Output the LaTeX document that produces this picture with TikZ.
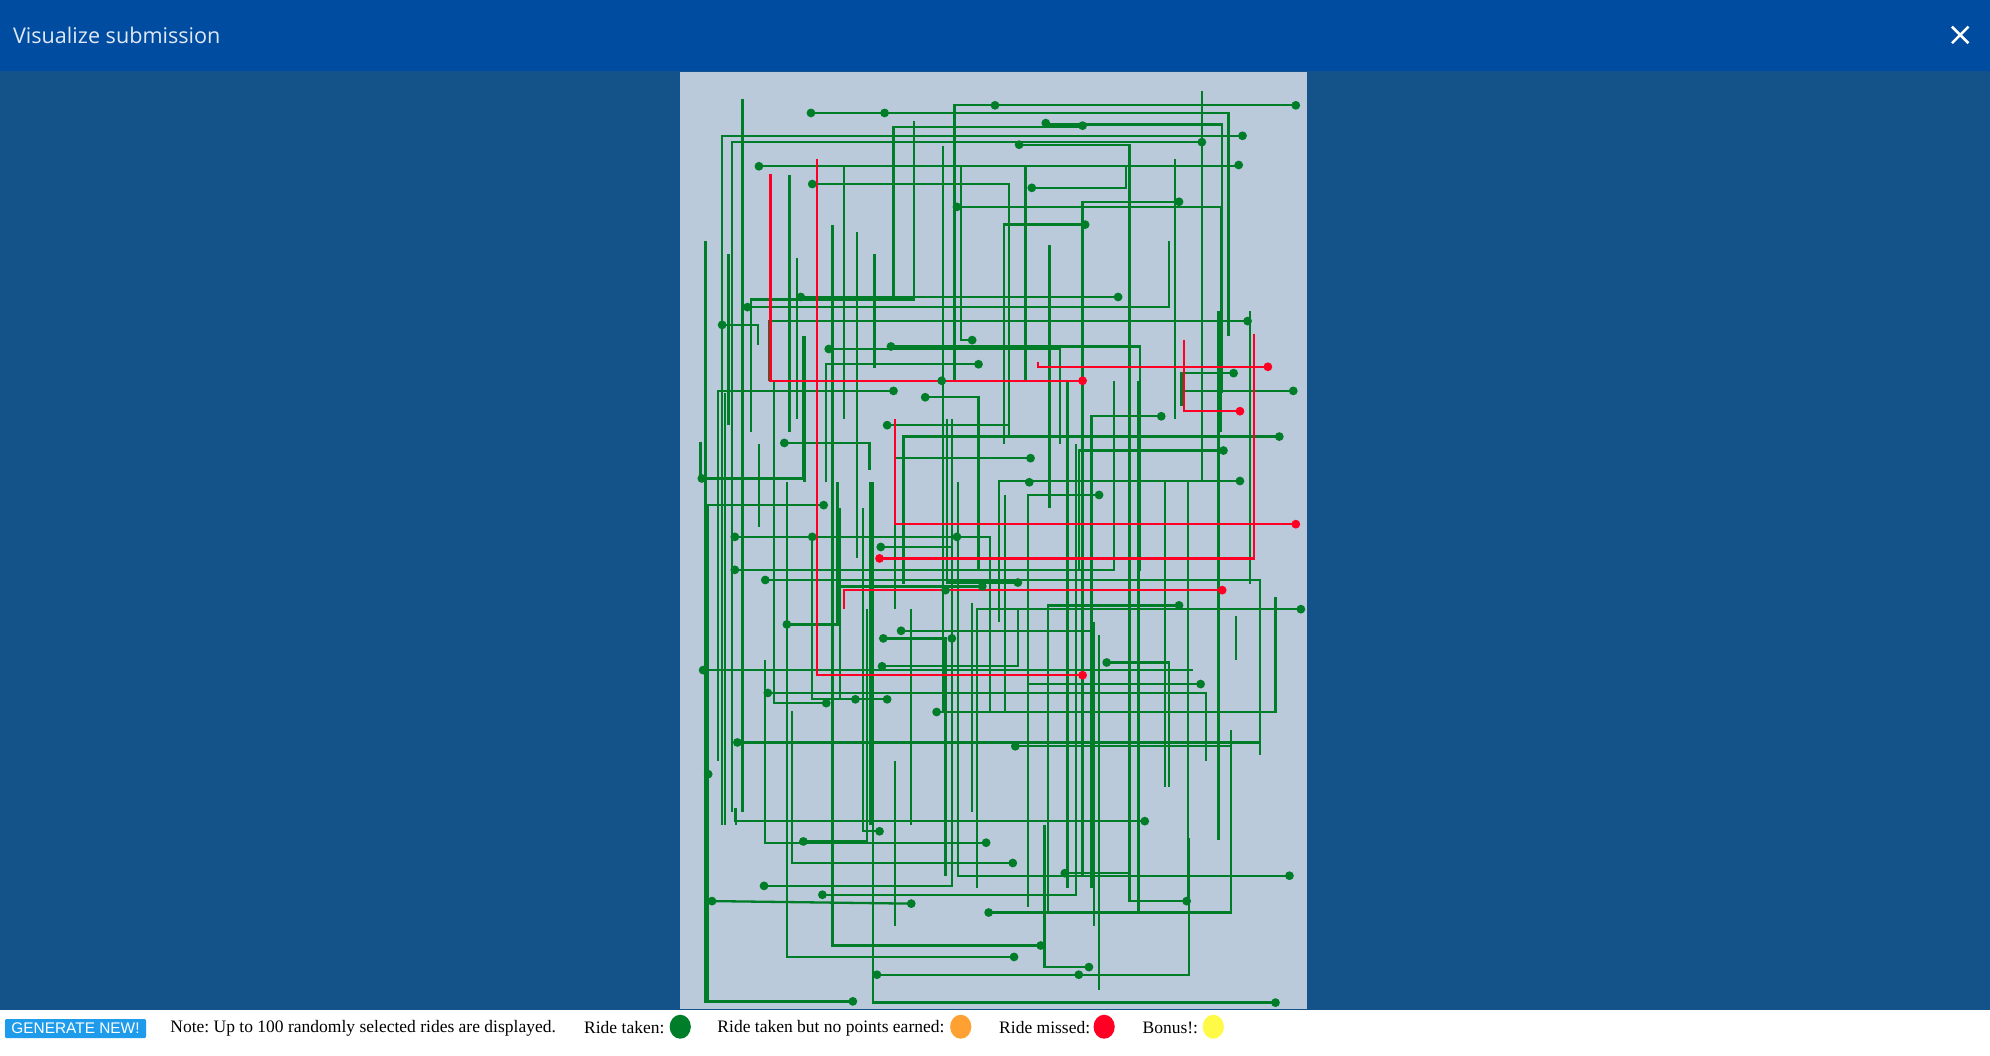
\documentclass[tikz,border=0pt]{standalone}
\usepackage{fontspec}
\usetikzlibrary{shapes.geometric}
\setmainfont{Liberation Serif}
\newfontfamily\hdfont{Open Sans}
\newfontfamily\btnfont{Liberation Sans}
\definecolor{hdblue}{RGB}{0,76,160}
\definecolor{bgblue}{RGB}{20,82,138}
\definecolor{panel}{RGB}{186,202,218}
\definecolor{rgreen}{RGB}{0,125,40}
\definecolor{rred}{RGB}{255,0,36}
\definecolor{rorange}{RGB}{255,160,50}
\definecolor{ryellow}{RGB}{255,250,70}
\definecolor{btnblue}{RGB}{30,155,235}
\frenchspacing
\begin{document}
\begin{tikzpicture}[x=0.6345pt,y=-0.6345pt,
  gl/.style={draw=rgreen,line width=1.15pt},
  rl/.style={draw=rred,line width=1.15pt},
  lbl/.style={anchor=west,inner sep=0pt,font=\fontsize{8.75pt}{10pt}\selectfont},
  legdot/.style={ellipse,minimum width=10.6pt,minimum height=12pt,inner sep=0pt}]
\useasboundingbox (0,0) rectangle (1568,832);
% backgrounds
\fill[bgblue] (0,0) rectangle (1568,796);
\fill[hdblue] (0,0) rectangle (1568,56);
\fill[white] (0,796) rectangle (1568,832);
\fill[panel] (536,57) rectangle (1030,795);
% header
\node[anchor=west,inner sep=0pt,text={rgb,255:red,225;green,232;blue,245},font=\hdfont\fontsize{10.8pt}{13pt}\selectfont] (title) at (10,28) {Visualize submission};
\draw[white,line width=1.3pt] (1538,21) -- (1551,34) (1551,21) -- (1538,34);
% green vertical-only lines
\foreach \x/\a/\b in {556/190/640,574/200/335,585/78/640,622/138/340,628/203/330,634/265/380,656/177/488,662/400/550,675/183/440,686/380/650,689/200/290,718/480/650,743/115/560,766/475/640,792/390/560,827/193/400,841/300/700,862/490/730,866/500/780,897/300/720,918/380/620,926/125/330,936/380/710,947/72/380,960/245/662,974/485/520,985/245/460,552/348/378,571/310/650,598/350/415,705/600/730,580/637/650}
  \draw[gl] (\x,\a) -- (\x,\b);
% green rides
\draw[gl] (752,300) |- (1021,83);
\draw[gl] (968,265) |- (639,89);
\draw[gl] (963,310) |- (824,98);
\draw[gl] (704,235) |- (853,100);
\draw[gl] (569,650) |- (979,107);
\draw[gl] (577,640) |- (947,112);
\draw[gl] (803,114) -| (890,400);
\draw[gl] (598,131) -- (976,131);
\draw[gl] (665,330) |- (808,131) -- (808,300);
\draw[gl] (640,145) -| (795,345);
\draw[gl] (813,148) -| (887,130);
\draw[gl] (929,159) -| (853,690);
\draw[gl] (754,163) -| (962,340);
\draw[gl] (855,177) -| (791,350);
\draw[gl] (631,234) -- (881,234);
\draw[gl] (592,340) |- (720,236) -- (720,95);
\draw[gl] (589,242) -| (921,190);
\draw[gl] (983,253) -| (606,300);
\draw[gl] (569,256) -| (597,272);
\draw[gl] (766,268) -| (757,130);
\draw[gl] (702,273) -| (898,450);
\draw[gl] (653,275) -| (835,350);
\draw[gl] (771,287) -| (651,380);
\draw[gl] (972,294) -| (931,320);
\draw[gl] (1019,308) -- (931,308);
\draw[gl] (704,308) -| (566,600);
\draw[gl] (729,313) -| (771,450);
\draw[gl] (915,328) -| (860,690);
\draw[gl] (699,335) -| (795,280);
\draw[gl] (1008,344) -| (712,460);
\draw[gl] (618,349) -| (685,370);
\draw[gl] (964,355) -| (850,450);
\draw[gl] (812,361) -| (705,480);
\draw[gl] (553,377) -| (633,265);
\draw[gl] (977,379) -| (787,490);
\draw[gl] (866,390) -| (810,690);
\draw[gl] (649,398) -| (558,790);
\draw[gl] (579,423) -| (780,560);
\draw[gl] (694,431) -| (750,330);
\draw[gl] (579,449) -| (878,300);
\draw[gl] (603,457) -| (993,595);
\draw[gl] (802,459) -| (746,330);
\draw[gl] (774,462) -| (662,400);
\draw[gl] (929,477) -| (826,720);
\draw[gl] (1025,480) -| (770,700);
\draw[gl] (620,492) -| (660,380);
\draw[gl] (710,497) -| (860,700);
\draw[gl] (696,503) -| (745,690);
\draw[gl] (872,522) -| (921,620);
\draw[gl] (695,525) -| (802,480);
\draw[gl] (554,528) -- (940,528);
\draw[gl] (946,539) -| (810,715);
\draw[gl] (605,546) -| (950,600);
\draw[gl] (699,551) -| (640,420);
\draw[gl] (674,551) -- (699,551);
\draw[gl] (651,554) -| (610,300);
\draw[gl] (738,561) -| (1005,470);
\draw[gl] (581,585) -- (993,585);
\draw[gl] (800,588) -| (970,575);
\draw[gl] (902,647) -| (579,637);
\draw[gl] (693,655) -| (680,400);
\draw[gl] (633,663) -| (683,480);
\draw[gl] (777,664) -| (603,520);
\draw[gl] (798,680) -| (624,560);
\draw[gl] (839,688) -- (891,688);
\draw[gl] (1016,690) -| (755,380);
\draw[gl] (602,698) -| (750,340);
\draw[gl] (648,705) -| (848,350);
\draw[gl] (561,710) -- (718,712);
\draw[gl] (935,710) -| (890,300);
\draw[gl] (779,719) -| (970,575);
\draw[gl] (820,745) -| (656,450);
\draw[gl] (799,754) -| (620,380);
\draw[gl] (858,762) -| (823,650);
\draw[gl] (691,768) -| (937,660);
\draw[gl] (672,789) -| (556,350);
\draw[gl] (1005,790) -| (688,380);
% red rides
\draw[rl] (607,137) |- (853,300);
\draw[rl] (818,285) |- (999,289);
\draw[rl] (933,268) |- (977,324);
\draw[rl] (705,330) |- (1021,413);
\draw[rl] (693,440) -| (988,263);
\draw[rl] (665,480) |- (963,465);
\draw[rl] (644,125) |- (853,532);
% green dots
\foreach \p in {{784,83},{1021,83},{639,89},{697,89},{824,97},{853,99},{979,107},{947,112},{803,114},{598,131},{976,130},{640,145},{813,148},{929,159},{754,163},{855,177},{631,234},{881,234},{589,242},{983,253},{569,256},{766,268},{702,273},{653,275},{771,287},{742,300},{972,294},{1019,308},{704,308},{729,313},{915,328},{699,335},{1008,344},{618,349},{964,355},{812,361},{553,377},{977,379},{811,380},{866,390},{649,398},{579,423},{640,423},{754,423},{694,431},{579,449},{603,457},{802,459},{774,462},{745,465},{929,477},{1025,480},{620,492},{710,497},{696,503},{750,503},{872,522},{695,525},{554,528},{946,539},{605,546},{674,551},{699,551},{651,554},{738,561},{581,585},{800,588},{558,610},{902,647},{693,655},{633,663},{777,664},{798,680},{839,688},{1016,690},{602,698},{648,705},{561,710},{718,712},{935,710},{779,719},{820,745},{799,754},{858,762},{691,768},{850,768},{672,789},{1005,790}}
  \fill[rgreen] (\p) circle[radius=2.2pt];
% red dots
\foreach \p in {{853,300},{999,289},{977,324},{1021,413},{693,440},{963,465},{853,532}}
  \fill[rred] (\p) circle[radius=2.2pt];
% footer
\node[fill=btnblue,text=white,inner sep=0pt,minimum width=70.5pt,minimum height=9.4pt,rounded corners=0.6pt,font=\btnfont\fontsize{7.7pt}{8pt}\selectfont] (btn) at (59.5,810.5) {GENERATE NEW!};
\node[lbl] (note) at (134,810) {Note: Up to 100 randomly selected rides are displayed.};
\node[lbl] (l1) at (460,810) {Ride taken:};
\node[legdot,fill=rgreen] (c1) at (536,809) {};
\node[lbl] (l2) at (565,810) {Ride taken but no points earned:};
\node[legdot,fill=rorange] (c2) at (757,809) {};
\node[lbl] (l3) at (787,810) {Ride missed:};
\node[legdot,fill=rred] (c3) at (870,809) {};
\node[lbl] (l4) at (900,810) {Bonus!:};
\node[legdot,fill=ryellow] (c4) at (956,809) {};
\end{tikzpicture}
\end{document}
